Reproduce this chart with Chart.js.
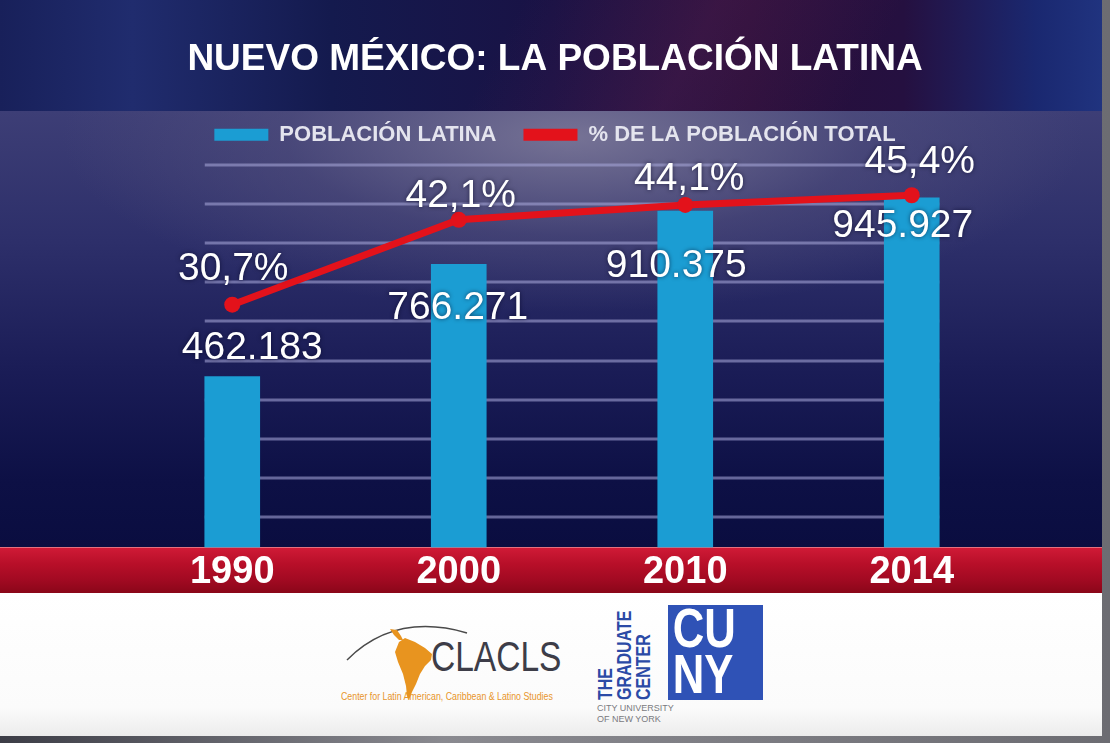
<!DOCTYPE html>
<html lang="es">
<head>
<meta charset="utf-8">
<title>Nuevo México: la población latina</title>
<script src="https://cdn.jsdelivr.net/npm/chart.js@4.4.1/dist/chart.umd.min.js"></script>
<style>
  html, body { margin: 0; padding: 0; }
  body {
    width: 1110px; height: 743px; position: relative; overflow: hidden;
    background: linear-gradient(90deg, #3c3d46, #8a8a90 40%, #6c6c72);
    font-family: 'Liberation Sans', Arial, sans-serif;
  }
  #top {
    position: absolute; left: 0; top: 0; width: 1102px; height: 111px;
    background:
      linear-gradient(118deg, rgba(0,0,0,0) 45%, rgba(120,40,90,0.25) 62%, rgba(0,0,0,0) 78%),
      linear-gradient(90deg, #18205a 0%, #202c6e 12%, #141a4e 30%, #191245 50%, #270f3b 68%, #251040 82%, #1a2870 94%, #20337f 100%);
  }
  #stage {
    position: absolute; left: 0; top: 111px; width: 1102px; height: 436px;
    background:
      radial-gradient(ellipse 58% 50% at 52% 6%, rgba(128,124,155,0.85), rgba(90,86,128,0.45) 45%, rgba(0,0,0,0) 80%),
      linear-gradient(180deg, #3d3e76 0%, #2d2f6a 30%, #1a1c56 60%, #0d1045 85%, #0a0d40 100%);
  }
  #band {
    position: absolute; left: 0; top: 547px; width: 1102px; height: 45px;
    border-top: 1px solid #e2707e;
    background: linear-gradient(180deg, #cf1a36 0%, #b80f29 35%, #a20a22 70%, #8a0619 100%);
  }
  #foot {
    position: absolute; left: 0; top: 593px; width: 1102px; height: 143px;
    background: linear-gradient(180deg, #ffffff 0%, #fbfbfb 80%, #ececec 100%);
  }
  #chart { position: absolute; left: 0; top: 0; }
  #mark { position: absolute; left: 335px; top: 612px; }
  .clacls {
    position: absolute; left: 431px; top: 632px; font-size: 43px; color: #3d3d48;
    transform: scaleX(0.78); transform-origin: left top; white-space: nowrap;
  }
  .clacls-sub {
    position: absolute; left: 341px; top: 690px; font-size: 11px; color: #e8952a;
    transform: scaleX(0.8); transform-origin: left top; white-space: nowrap;
  }
  .gc {
    position: absolute; left: 577px; top: 624px; width: 95px; height: 57px;
    transform: rotate(-90deg); transform-origin: center;
    font-weight: bold; font-size: 20px; line-height: 19px; color: #2b4aa6;
  }
  .gc span { display: block; white-space: nowrap; transform: scaleX(0.8); transform-origin: left center; }
  .gc-sub {
    position: absolute; left: 597px; top: 703px; font-size: 9px; line-height: 11px; color: #7a7a80;
  }
  .cuny {
    position: absolute; left: 668px; top: 605px; width: 95px; height: 95px; background: #2f52b6;
    font-weight: bold; font-size: 56px; line-height: 46px; color: #fff;
  }
  .cuny span { display: block; padding-left: 6px; transform: scaleX(0.78); transform-origin: left center; }
</style>
</head>
<body>
<div id="top"></div>
<div id="stage"></div>
<div id="band"></div>
<div id="foot"></div>

<svg id="mark" width="140" height="95" viewBox="0 0 140 95">
  <path d="M12,48 Q60,0 132,21" fill="none" stroke="#4a4a4a" stroke-width="1.5"/>
  <polygon fill="#e8941f" points="55,17 62,18 66,24 68,28 64,28 59,23"/>
  <polygon fill="#e8941f" points="64,30 70,26 80,30 90,36 97,42 96,48 90,54 85,62 81,72 77,80 74,88 72,84 71,74 68,62 63,50 60,40"/>
</svg>
<div class="clacls">CLACLS</div>
<div class="clacls-sub">Center for Latin American, Caribbean &amp; Latino Studies</div>
<div class="gc"><span>THE</span><span>GRADUATE</span><span>CENTER</span></div>
<div class="gc-sub">CITY UNIVERSITY<br>OF NEW YORK</div>
<div class="cuny"><span>CU</span><span>NY</span></div>

<canvas id="chart" width="1110" height="601"></canvas>

<script>
// datos
const years = ['1990', '2000', '2010', '2014']
const latinos = [462183, 766271, 910375, 945927]
const pctTotal = [30.7, 42.1, 44.1, 45.4]
const seriesNames = ['POBLACIÓN LATINA', '% DE LA POBLACIÓN TOTAL']
const titleText = 'NUEVO MÉXICO: LA POBLACIÓN LATINA'
const gridSteps = [0, 1, 2, 3, 4, 5, 6, 7, 8, 9]

// label nudges (px) as in the slide
const barLabelShift = [[20, -28], [-1, 44], [-9, 55], [-9, 28]]
const pctLabelShift = [[1, -35], [2, -24], [4, -26], [8, -33]]

const BLUE = '#1b9dd3'
const RED = '#e3121b'

let fmt_thousands = v => String(v).replace(/\B(?=(\d{3})+(?!\d))/g, '.')
let fmt_pct = v => v.toFixed(1).replace('.', ',') + '%'

let grid_lines = {
  id: 'gridLines',
  beforeDatasetsDraw(chart) {
    let g = chart.scales.g
    let bars = chart.getDatasetMeta(0).data
    let first = bars[0], last = bars[bars.length - 1]
    let left = first.x - first.width / 2
    let right = last.x + last.width / 2
    let ctx = chart.ctx
    ctx.save()
    ctx.strokeStyle = 'rgba(165,165,215,0.58)'
    ctx.lineWidth = 3
    g.ticks.forEach(t => {
      let y = Math.round(g.getPixelForValue(t.value))
      ctx.beginPath()
      ctx.moveTo(left, y)
      ctx.lineTo(right, y)
      ctx.stroke()
    })
    ctx.restore()
  }
}

let value_labels = {
  id: 'valueLabels',
  afterDatasetsDraw(chart) {
    let ctx = chart.ctx
    ctx.save()
    ctx.font = '39px "Liberation Sans", Arial, sans-serif'
    ctx.fillStyle = '#ffffff'
    ctx.textAlign = 'center'
    ctx.textBaseline = 'middle'
    ctx.shadowColor = 'rgba(0,0,30,0.6)'
    ctx.shadowBlur = 4
    chart.getDatasetMeta(0).data.forEach((bar, i) => {
      let [dx, dy] = barLabelShift[i]
      ctx.fillText(fmt_thousands(latinos[i]), bar.x + dx, bar.y + dy)
    })
    chart.getDatasetMeta(1).data.forEach((pt, i) => {
      let [dx, dy] = pctLabelShift[i]
      ctx.fillText(fmt_pct(pctTotal[i]), pt.x + dx, pt.y + dy)
    })
    ctx.restore()
  }
}

let hidden_axis = (position, width) => ({
  axis: 'y',
  position: position,
  ticks: { display: false },
  grid: { display: false },
  border: { display: false },
  afterFit: scale => { scale.width = width }
})

let config = {
  data: {
    labels: years,
    datasets: [{
      type: 'bar',
      label: seriesNames[0],
      data: latinos,
      backgroundColor: BLUE,
      barThickness: 55,
      yAxisID: 'y',
      order: 1
    }, {
      type: 'line',
      label: seriesNames[1],
      data: pctTotal,
      borderColor: RED,
      backgroundColor: RED,
      borderWidth: 7,
      pointRadius: 8,
      pointHoverRadius: 8,
      pointBorderWidth: 0,
      tension: 0,
      yAxisID: 'y2',
      order: 0
    }]
  },
  options: {
    responsive: false,
    animation: false,
    events: [],
    layout: { padding: { top: 27, bottom: 4 } },
    plugins: {
      tooltip: { enabled: false },
      title: {
        display: true,
        text: titleText,
        color: '#ffffff',
        font: { family: '"Liberation Sans", Arial, sans-serif', size: 37, weight: 'bold' },
        padding: { top: 11, bottom: 14.4 }
      },
      legend: {
        display: true,
        labels: {
          color: '#e4e4ee',
          font: { family: '"Liberation Sans", Arial, sans-serif', size: 22, weight: 'bold' },
          boxWidth: 54,
          boxHeight: 12,
          padding: 27,
          generateLabels: chart => chart.data.datasets.map((ds, i) => ({
            text: ds.label,
            fillStyle: ds.backgroundColor,
            strokeStyle: ds.backgroundColor,
            lineWidth: 0,
            fontColor: '#e4e4ee',
            datasetIndex: i
          }))
        }
      }
    },
    scales: {
      x: {
        grid: { display: false, drawTicks: false },
        border: { display: false },
        ticks: {
          color: '#ffffff',
          padding: 2,
          font: { family: '"Liberation Sans", Arial, sans-serif', size: 38, weight: 'bold' }
        }
      },
      y: Object.assign(hidden_axis('left', 119), { min: 0, max: 1059700 }),
      y2: Object.assign(hidden_axis('right', 85), { min: -1.9, max: 50.7 }),
      g: {
        axis: 'y', display: false, min: -0.767, max: 9.23,
        afterBuildTicks: scale => { scale.ticks = gridSteps.map(v => ({ value: v })) }
      }
    }
  },
  plugins: [grid_lines, value_labels]
}

new Chart(document.getElementById('chart'), config)
</script>
</body>
</html>
